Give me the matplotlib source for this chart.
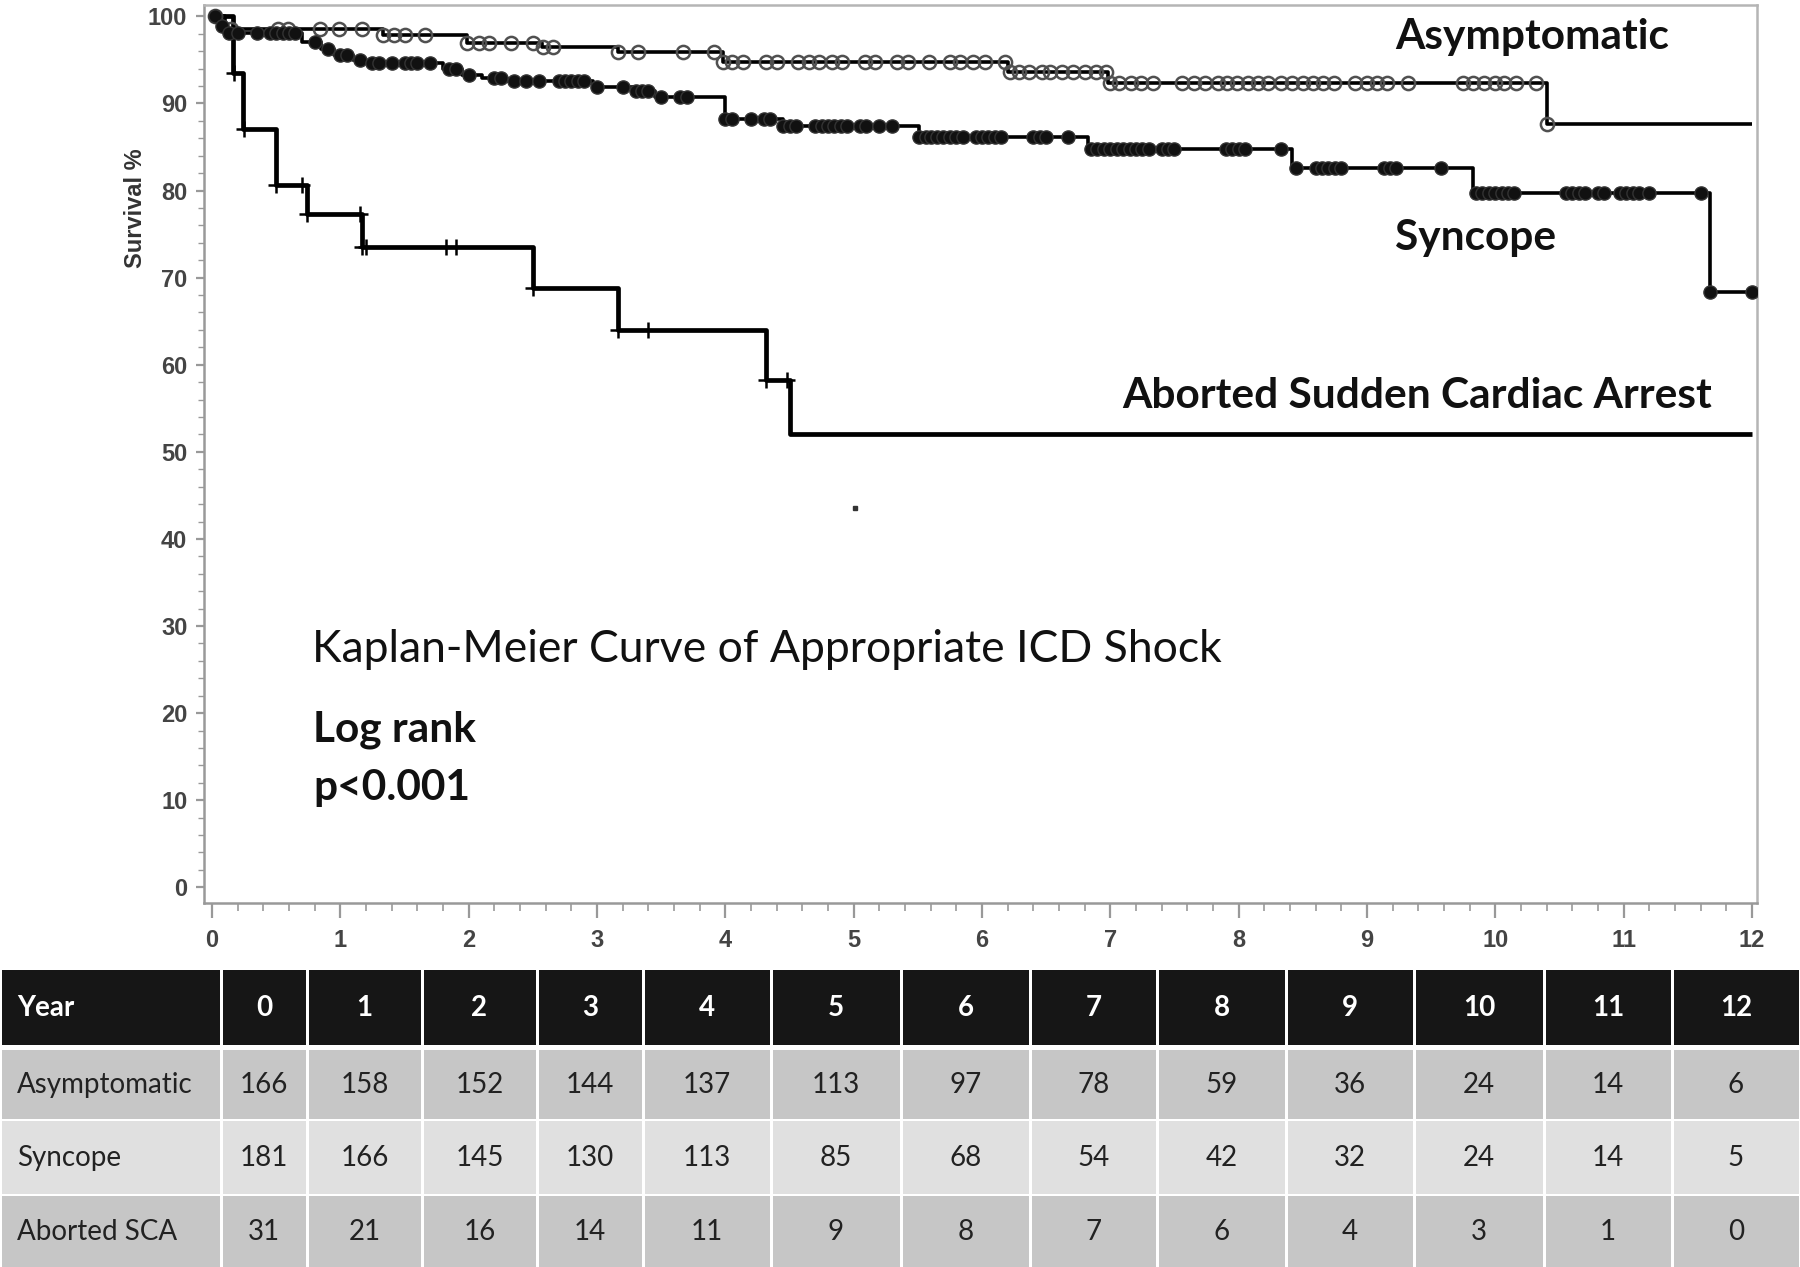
import matplotlib.pyplot as plt
import numpy as np
from matplotlib.patches import Rectangle

# Kaplan-Meier step curves: time (years) where survival (%) changes
asym_t = [0, 0.1, 1.33, 1.99, 2.57, 3.16, 3.98, 6.2, 6.98, 10.4]
asym_s = [100, 98.6, 97.9, 96.9, 96.5, 95.9, 94.8, 93.6, 92.4, 87.6]
asym_cens = [0.02, 0.15, 0.51, 0.59, 0.84, 0.99, 1.17, 1.33, 1.42, 1.5, 1.66, 1.99, 2.08,
             2.16, 2.33, 2.5, 2.58, 2.66, 3.16, 3.32, 3.67, 3.91, 3.98, 4.05, 4.14, 4.32,
             4.4, 4.57, 4.65, 4.73, 4.83, 4.91, 5.09, 5.17, 5.34, 5.42, 5.59, 5.75, 5.83,
             5.93, 6.02, 6.18, 6.22, 6.29, 6.37, 6.47, 6.53, 6.62, 6.71, 6.8, 6.89, 6.97,
             7.0, 7.07, 7.16, 7.24, 7.33, 7.56, 7.65, 7.74, 7.84, 7.91, 7.99, 8.07, 8.15,
             8.23, 8.33, 8.42, 8.5, 8.58, 8.66, 8.74, 8.91, 9.0, 9.08, 9.16, 9.32, 9.75,
             9.83, 9.91, 10.0, 10.07, 10.16, 10.32, 10.4]

sync_t = [0, 0.07, 0.12, 0.7, 0.85, 0.95, 1.1, 1.2, 1.8, 1.95, 2.1, 2.3, 2.97, 3.3,
          3.45, 4.0, 4.45, 5.51, 6.83, 8.42, 9.83, 11.67]
sync_s = [100, 98.9, 98.1, 97.0, 96.3, 95.6, 95.0, 94.6, 93.9, 93.3, 92.9, 92.6, 91.9,
          91.4, 90.7, 88.2, 87.4, 86.2, 84.8, 82.6, 79.7, 68.3]
sync_cens = [0.02, 0.08, 0.13, 0.2, 0.35, 0.45, 0.5, 0.55, 0.6, 0.65, 0.8, 0.9, 1.0, 1.05,
             1.15, 1.25, 1.3, 1.4, 1.5, 1.55, 1.6, 1.7, 1.85, 1.9, 2.0, 2.2, 2.25, 2.35,
             2.45, 2.55, 2.7, 2.75, 2.8, 2.85, 2.9, 3.0, 3.2, 3.3, 3.35, 3.4, 3.5, 3.65,
             3.7, 4.0, 4.05, 4.2, 4.3, 4.35, 4.45, 4.5, 4.55, 4.7, 4.75, 4.8, 4.85, 4.9,
             4.95, 5.05, 5.1, 5.2, 5.3, 5.51, 5.56, 5.6, 5.65, 5.7, 5.75, 5.8, 5.85, 5.95,
             6.0, 6.05, 6.1, 6.15, 6.4, 6.45, 6.5, 6.67, 6.85, 6.9, 6.95, 7.0, 7.05, 7.1,
             7.15, 7.2, 7.25, 7.3, 7.4, 7.45, 7.5, 7.9, 7.95, 8.0, 8.05, 8.33, 8.45, 8.6,
             8.65, 8.7, 8.75, 8.8, 9.13, 9.18, 9.23, 9.58, 9.85, 9.9, 9.95, 10.0, 10.05,
             10.1, 10.15, 10.55, 10.6, 10.65, 10.7, 10.8, 10.85, 10.97, 11.02, 11.07, 11.12,
             11.2, 11.6, 11.67, 12.0]

asca_t = [0, 0.16, 0.24, 0.5, 0.74, 1.17, 2.5, 3.16, 4.32, 4.5]
asca_s = [100, 93.5, 87.1, 80.6, 77.3, 73.5, 68.8, 64.0, 58.2, 52.0]
asca_cens = [0.17, 0.25, 0.5, 0.7, 0.74, 1.15, 1.17, 1.2, 1.82, 1.9, 2.5, 3.16, 3.4,
             4.32, 4.48]

# numbers at risk
years = list(range(13))
row_names = ['Asymptomatic', 'Syncope', 'Aborted SCA']
risk_asym = [166, 158, 152, 144, 137, 113, 97, 78, 59, 36, 24, 14, 6]
risk_sync = [181, 166, 145, 130, 113, 85, 68, 54, 42, 32, 24, 14, 5]
risk_asca = [31, 21, 16, 14, 11, 9, 8, 7, 6, 4, 3, 1, 0]

t_end = 12.0
W, H = 1800, 1267


def level_at(t, s, x):
    idx = np.searchsorted(t, x, side='right') - 1
    return np.asarray(s)[idx]


fig = plt.figure(figsize=(W / 100, H / 100), dpi=100)
ax = fig.add_axes([204 / W, 1 - 903 / H, (1757 - 204) / W, (903 - 5) / H])

for t, s, lw in [(asym_t, asym_s, 2.6), (sync_t, sync_s, 2.6), (asca_t, asca_s, 3.4)]:
    ax.step(list(t) + [t_end], list(s) + [s[-1]], where='post', color='black', lw=lw,
            solid_capstyle='butt', zorder=2)

ax.plot(asym_cens, level_at(asym_t, asym_s, asym_cens), 'o', ms=9.5, mfc='none',
        mec='#505050', mew=1.8, zorder=3)
ax.plot(sync_cens, level_at(sync_t, sync_s, sync_cens), 'o', ms=9.5, color='#111111',
        mec='#333333', zorder=3)
ax.plot(asca_cens, level_at(asca_t, asca_s, asca_cens), '+', ms=12, mew=1.8,
        color='black', zorder=3)
ax.plot([5.01], [43.6], 's', ms=2.5, color='#333333')

ax.set_xlim(-0.063, 12.04)
ax.set_ylim(-1.8, 101.3)
ax.set_xticks(range(13))
ax.set_xticks(np.arange(0, 12.01, 0.2), minor=True)
ax.set_yticks(range(0, 101, 10))
ax.set_yticks(range(0, 101, 2), minor=True)
for sp in ['left', 'bottom']:
    ax.spines[sp].set_color('#999999')
    ax.spines[sp].set_linewidth(1.8)
for sp in ['top', 'right']:
    ax.spines[sp].set_color('#b5b5b5')
    ax.spines[sp].set_linewidth(1.8)
ax.tick_params(axis='x', which='major', length=11, width=1.6, color='#999999',
               labelsize=17, labelcolor='#444444', pad=8)
ax.tick_params(axis='x', which='minor', length=6, width=1.2, color='#999999')
ax.tick_params(axis='y', which='major', length=6, width=1.6, color='#999999',
               labelsize=17, labelcolor='#444444', pad=6)
ax.tick_params(axis='y', which='minor', length=4, width=1.0, color='#999999')
for lab in ax.get_xticklabels() + ax.get_yticklabels():
    lab.set_fontweight('bold')
    lab.set_family('Liberation Sans')

fig.text(135 / W, 1 - 208 / H, 'Survival %', rotation=90, ha='center', va='center',
         fontsize=17, fontweight='bold', family='Liberation Sans', color='#333333')

lato = 'Lato'
big = 30.5
fig.text(1395 / W, 1 - 37 / H, 'Asymptomatic', fontsize=big, fontweight='bold',
         family=lato, va='center', color='#111111')
fig.text(1395 / W, 1 - 238 / H, 'Syncope', fontsize=big, fontweight='bold',
         family=lato, va='center', color='#111111')
fig.text(1122 / W, 1 - 396 / H, 'Aborted Sudden Cardiac Arrest', fontsize=big,
         fontweight='bold', family=lato, va='center', color='#111111')
fig.text(312 / W, 1 - 649 / H, 'Kaplan-Meier Curve of Appropriate ICD Shock',
         fontsize=32, family=lato, va='center', color='#111111')
fig.text(313 / W, 1 - 730 / H, 'Log rank', fontsize=big, fontweight='bold',
         family=lato, va='center', color='#111111')
fig.text(313 / W, 1 - 788 / H, 'p<0.001', fontsize=big, fontweight='bold',
         family=lato, va='center', color='#111111')

# number-at-risk table
col_edges = [0, 221, 307, 422, 537, 643, 771, 901, 1030, 1157, 1286, 1414, 1544, 1672, 1800]
row_spans = [(970, 1045), (1050, 1119), (1121, 1194), (1196, 1267)]
row_colors = ['#161616', '#c6c6c6', '#e0e0e0', '#c6c6c6']

tab = fig.add_axes([0, 0, 1, (H - 970) / H])
tab.set_xlim(0, W)
tab.set_ylim(H, 970)
tab.axis('off')

rows = [['Year'] + [str(y) for y in years]]
for name, vals in zip(row_names, [risk_asym, risk_sync, risk_asca]):
    rows.append([name] + [str(v) for v in vals])

for r, (cells, (y0, y1), fc) in enumerate(zip(rows, row_spans, row_colors)):
    txt_color = 'white' if r == 0 else '#222222'
    weight = 'bold' if r == 0 else 'normal'
    for c, cell in enumerate(cells):
        x0, x1 = col_edges[c], col_edges[c + 1]
        tab.add_patch(Rectangle((x0 + 1.5, y0), x1 - x0 - 3, y1 - y0, facecolor=fc,
                                edgecolor='none'))
        if c == 0:
            tab.text(x0 + 17, (y0 + y1) / 2, cell, ha='left', va='center', fontsize=20,
                     family=lato, fontweight=weight, color=txt_color)
        else:
            tab.text((x0 + x1) / 2, (y0 + y1) / 2, cell, ha='center', va='center',
                     fontsize=20, family=lato, fontweight=weight, color=txt_color)

fig.savefig('out.png', dpi=100)
